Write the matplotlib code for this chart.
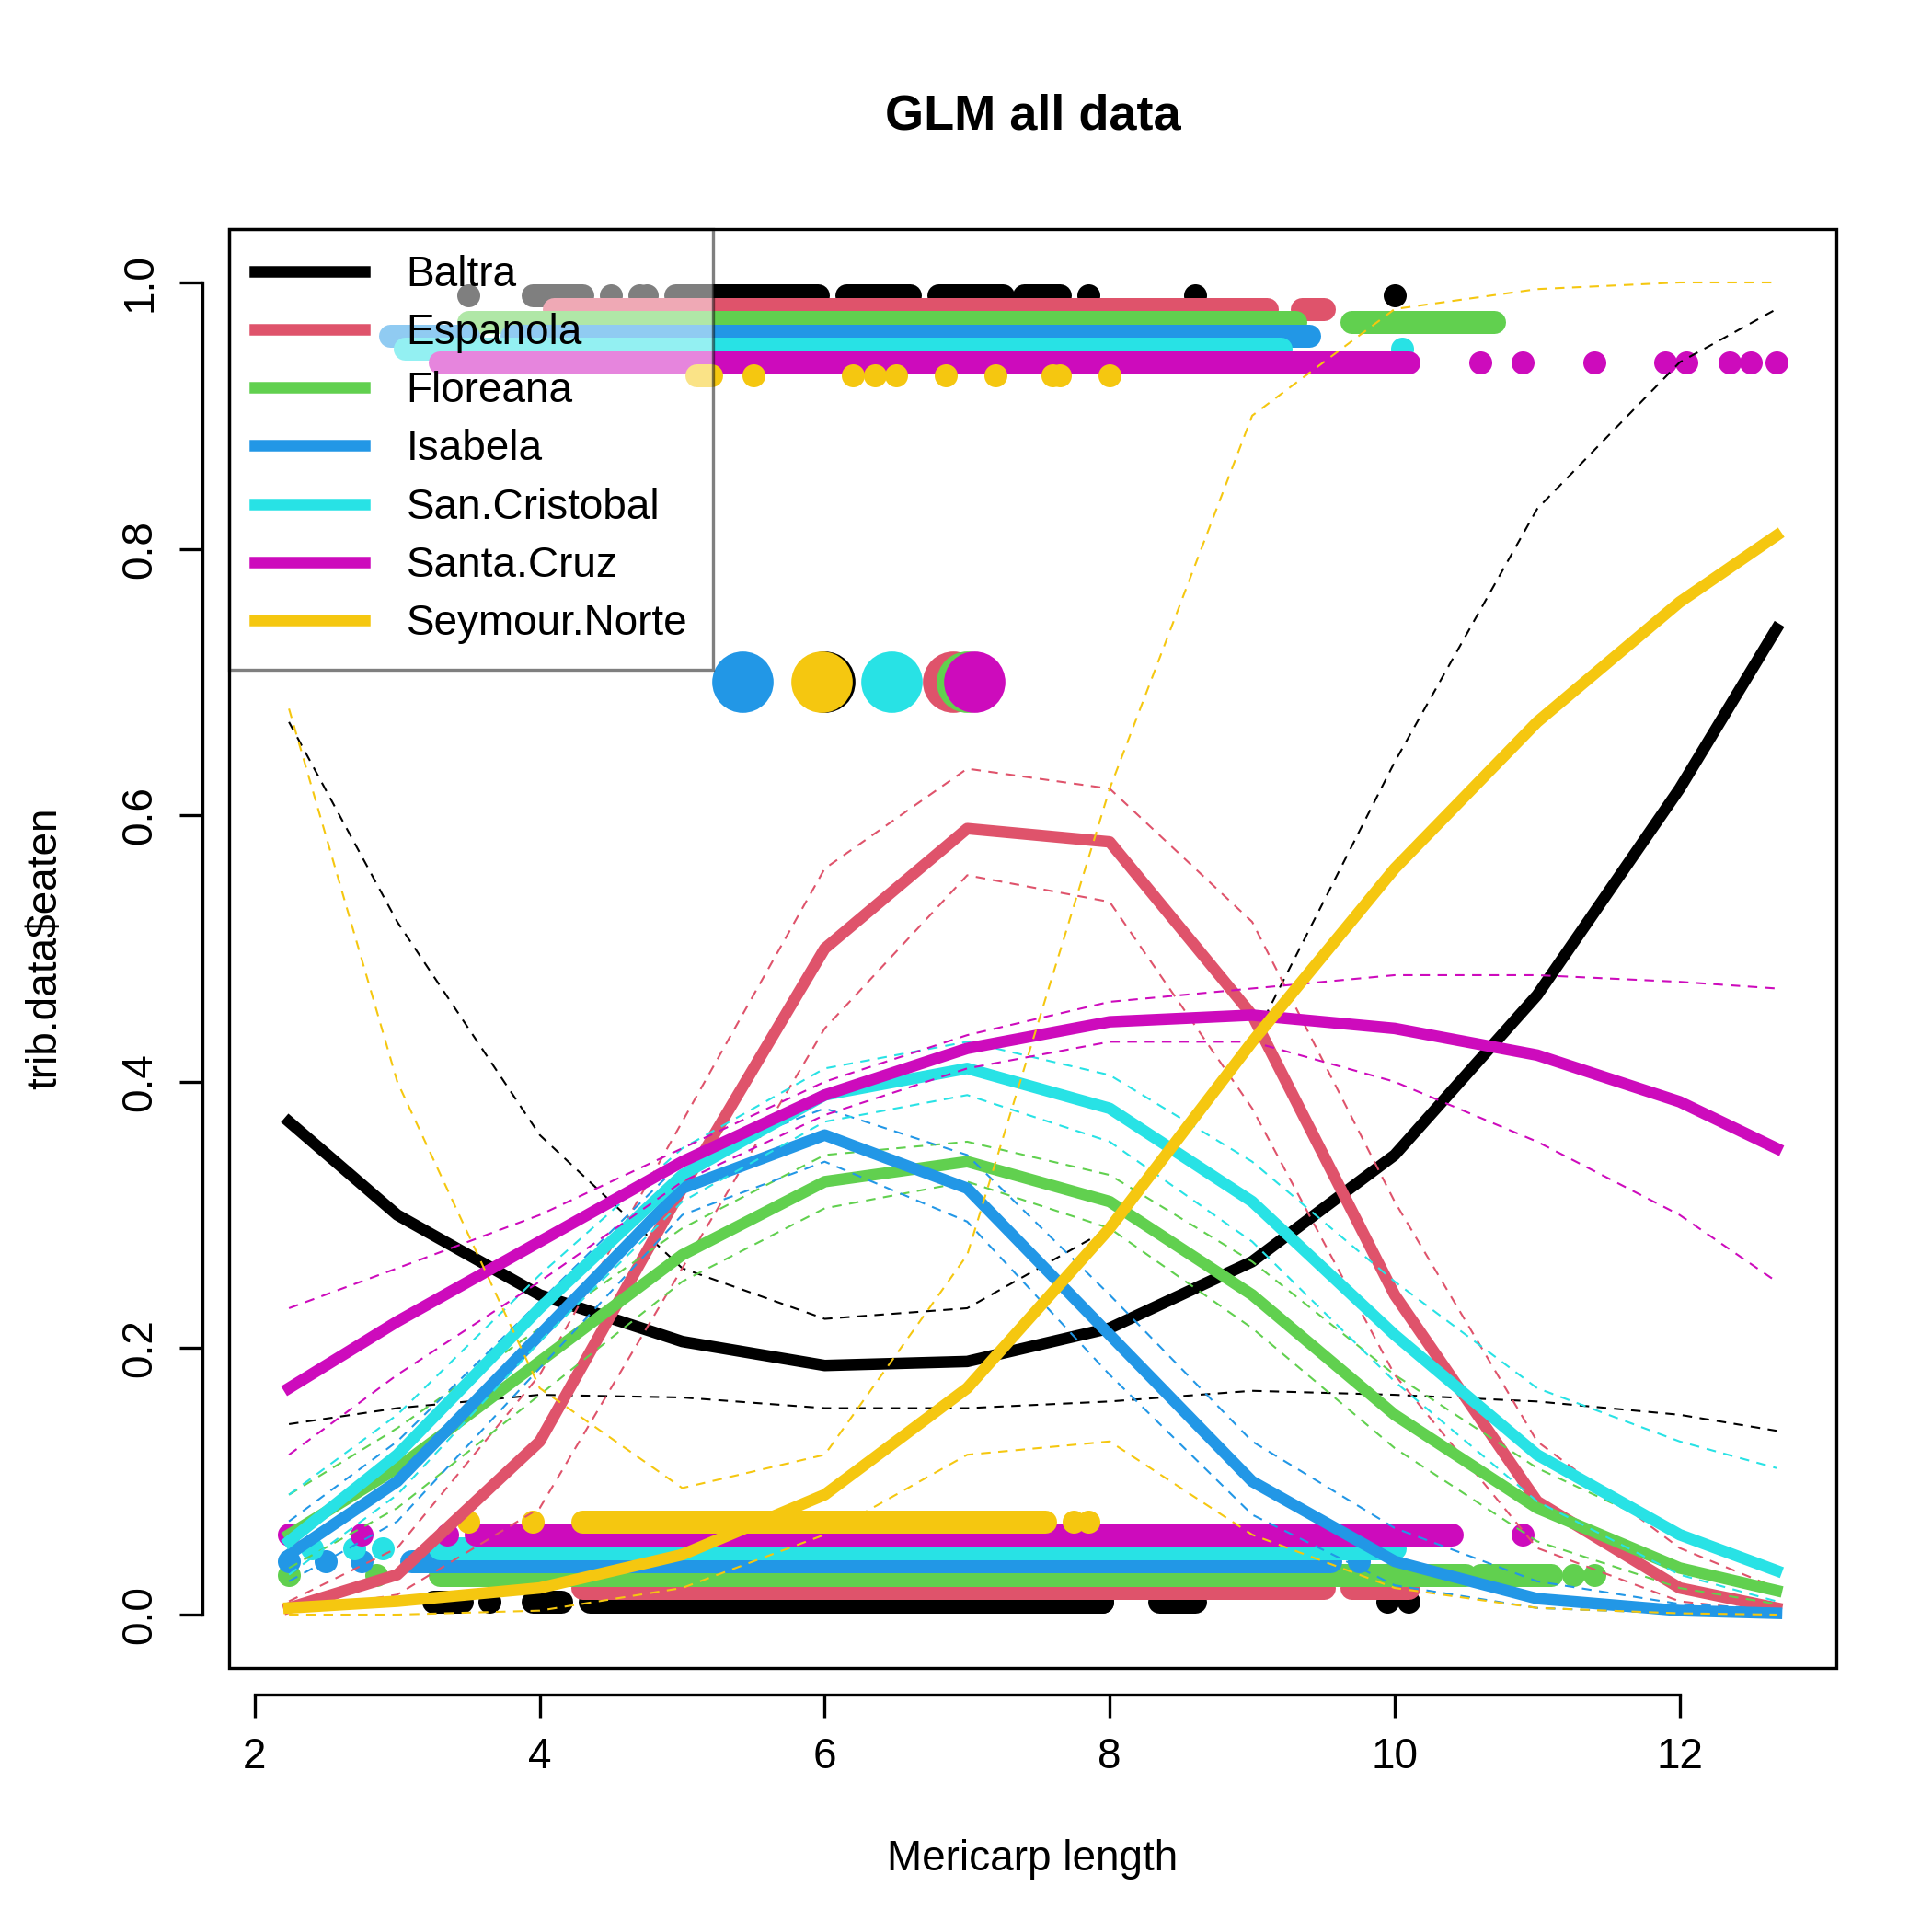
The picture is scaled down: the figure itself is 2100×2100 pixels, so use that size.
import matplotlib

matplotlib.use("Agg")
import matplotlib.pyplot as plt
from matplotlib.patches import Rectangle

plt.rcParams["font.family"] = ["Liberation Sans", "DejaVu Sans"]

islands = ["Baltra", "Espanola", "Floreana", "Isabela", "San.Cristobal", "Santa.Cruz", "Seymour.Norte"]
colors = ["#000000", "#DF536B", "#61D04F", "#2297E6", "#28E2E5", "#CD0BBC", "#F5C710"]

# fitted curves read at these lengths
grid = [2.24, 3, 4, 5, 6, 7, 8, 9, 10, 11, 12, 12.68]
fit = {
    "Baltra": [0.37, 0.30, 0.24, 0.205, 0.187, 0.19, 0.215, 0.265, 0.345, 0.465, 0.62, 0.74],
    "Espanola": [0.005, 0.03, 0.13, 0.32, 0.50, 0.59, 0.58, 0.45, 0.24, 0.085, 0.02, 0.005],
    "Floreana": [0.06, 0.11, 0.19, 0.27, 0.325, 0.34, 0.31, 0.24, 0.15, 0.08, 0.035, 0.018],
    "Isabela": [0.045, 0.10, 0.21, 0.32, 0.36, 0.32, 0.21, 0.10, 0.04, 0.012, 0.003, 0.001],
    "San.Cristobal": [0.055, 0.12, 0.23, 0.33, 0.39, 0.41, 0.38, 0.31, 0.21, 0.12, 0.06, 0.033],
    "Santa.Cruz": [0.17, 0.22, 0.28, 0.34, 0.39, 0.425, 0.445, 0.45, 0.44, 0.42, 0.385, 0.35],
    "Seymour.Norte": [0.005, 0.01, 0.02, 0.045, 0.09, 0.17, 0.29, 0.43, 0.56, 0.67, 0.76, 0.81],
}
upper = {
    "Baltra": [0.67, 0.52, 0.36, 0.26, 0.222, 0.23, 0.29, 0.43, 0.64, 0.83, 0.94, 0.98],
    "Espanola": [0.01, 0.05, 0.18, 0.37, 0.56, 0.635, 0.62, 0.52, 0.31, 0.13, 0.05, 0.02],
    "Floreana": [0.09, 0.14, 0.215, 0.29, 0.345, 0.355, 0.33, 0.265, 0.18, 0.11, 0.06, 0.035],
    "Isabela": [0.07, 0.13, 0.235, 0.34, 0.38, 0.345, 0.24, 0.13, 0.065, 0.025, 0.008, 0.004],
    "San.Cristobal": [0.09, 0.15, 0.255, 0.35, 0.41, 0.43, 0.405, 0.34, 0.25, 0.17, 0.13, 0.11],
    "Santa.Cruz": [0.23, 0.26, 0.30, 0.35, 0.40, 0.435, 0.46, 0.47, 0.48, 0.48, 0.475, 0.47],
    "Seymour.Norte": [0.68, 0.40, 0.17, 0.095, 0.12, 0.27, 0.62, 0.90, 0.98, 0.995, 1.0, 1.0],
}
lower = {
    "Baltra": [0.143, 0.155, 0.165, 0.163, 0.155, 0.155, 0.16, 0.168, 0.165, 0.16, 0.15, 0.138],
    "Espanola": [0.002, 0.015, 0.08, 0.26, 0.44, 0.555, 0.535, 0.38, 0.18, 0.05, 0.01, 0.002],
    "Floreana": [0.035, 0.08, 0.165, 0.25, 0.305, 0.325, 0.29, 0.215, 0.125, 0.055, 0.02, 0.008],
    "Isabela": [0.025, 0.07, 0.185, 0.30, 0.34, 0.295, 0.18, 0.075, 0.022, 0.005, 0.001, 0.0],
    "San.Cristobal": [0.03, 0.09, 0.205, 0.31, 0.37, 0.39, 0.355, 0.28, 0.175, 0.085, 0.03, 0.01],
    "Santa.Cruz": [0.12, 0.18, 0.25, 0.325, 0.375, 0.41, 0.43, 0.43, 0.40, 0.355, 0.30, 0.25],
    "Seymour.Norte": [0.0, 0.0, 0.003, 0.02, 0.06, 0.12, 0.13, 0.06, 0.02, 0.005, 0.001, 0.0],
}

# observed seeds: y level of each strip, dense runs (start, end) and single points
strip_y_eaten = [0.99, 0.98, 0.97, 0.96, 0.95, 0.94, 0.93]
strip_y_uneaten = [0.01, 0.02, 0.03, 0.04, 0.05, 0.06, 0.07]
runs_eaten = [
    [(3.95, 4.3), (4.95, 5.95), (6.15, 6.6), (6.8, 7.25), (7.4, 7.65)],
    [(4.1, 9.1), (9.35, 9.5)],
    [(3.5, 9.3), (9.7, 10.7)],
    [(2.95, 3.5), (3.8, 9.4)],
    [(3.05, 9.2)],
    [(3.3, 10.1)],
    [(5.1, 5.2)],
]
single_eaten = [
    [3.5, 4.5, 4.7, 4.75, 5.6, 7.85, 8.6, 10.0],
    [],
    [],
    [],
    [10.05],
    [10.6, 10.9, 11.4, 11.9, 12.05, 12.35, 12.5, 12.68],
    [5.5, 6.2, 6.35, 6.5, 6.85, 7.2, 7.6, 7.65, 8.0],
]
runs_uneaten = [
    [(3.25, 3.45), (3.95, 4.15), (4.35, 7.95), (8.35, 8.6)],
    [(4.3, 9.5), (9.7, 10.1)],
    [(3.3, 10.5), (10.6, 11.1)],
    [(3.1, 9.55)],
    [(3.3, 10.0)],
    [(3.55, 10.4)],
    [(4.3, 7.55)],
]
single_uneaten = [
    [3.65, 7.95, 9.95, 10.1],
    [10.05],
    [2.24, 2.85, 11.25, 11.4],
    [2.24, 2.5, 2.75, 9.75],
    [2.4, 2.7, 2.9, 9.9],
    [2.24, 2.75, 3.35, 10.9],
    [3.5, 3.95, 7.75, 7.85],
]
mean_length = [6.0, 6.9, 7.0, 5.42, 6.47, 7.05, 5.98]
mean_order = [3, 0, 6, 4, 1, 2, 5]

fig = plt.figure(figsize=(7, 7), dpi=300)
ax = fig.add_axes([0.1186, 0.1367, 0.8319, 0.7447])
ax.set_xlim(1.82, 13.1)
ax.set_ylim(-0.04, 1.04)

dot = 6.0
for i, name in enumerate(islands):
    c = colors[i]
    for runs, singles, yv in ((runs_eaten[i], single_eaten[i], strip_y_eaten[i]),
                              (runs_uneaten[i], single_uneaten[i], strip_y_uneaten[i])):
        for a, b in runs:
            ax.plot([a, b], [yv, yv], color=c, lw=dot, solid_capstyle="round", zorder=2)
        ax.plot(singles, [yv] * len(singles), "o", color=c, ms=dot, mec="none", zorder=2)

for i in mean_order:
    ax.plot([mean_length[i]], [0.7], "o", color=colors[i], ms=16, mec="none", zorder=2)

for i, name in enumerate(islands):
    ax.plot(grid, fit[name], color=colors[i], lw=3, zorder=3, label=name,
            solid_joinstyle="round")
    ax.plot(grid, upper[name], color=colors[i], lw=0.5, ls=(0, (5, 4)), zorder=3)
    ax.plot(grid, lower[name], color=colors[i], lw=0.5, ls=(0, (5, 4)), zorder=3)

leg = ax.legend(loc="upper left", borderaxespad=0, fontsize=11, frameon=True, fancybox=False,
                edgecolor="black", framealpha=0.5, handlelength=2.6, labelspacing=0.42,
                borderpad=0.6, handletextpad=1.0)
leg.get_frame().set_linewidth(0.8)
leg.set_zorder(5)

ax.add_patch(Rectangle((0, 0), 1, 1, transform=ax.transAxes, fill=False, lw=0.8, zorder=6, clip_on=False))
for s in ("top", "right"):
    ax.spines[s].set_visible(False)
ax.spines["bottom"].set_position(("outward", 7))
ax.spines["left"].set_position(("outward", 7))
ax.spines["bottom"].set_bounds(2, 12)
ax.spines["left"].set_bounds(0, 1)
ax.set_xticks([2, 4, 6, 8, 10, 12])
ax.set_yticks([0, 0.2, 0.4, 0.6, 0.8, 1.0])
ax.set_yticklabels(["0.0", "0.2", "0.4", "0.6", "0.8", "1.0"], rotation=90, va="center")
ax.tick_params(length=6, width=0.8, labelsize=11, pad=5)

ax.set_title("GLM all data", fontsize=13, fontweight="bold", pad=26)
ax.set_xlabel("Mericarp length", fontsize=11, labelpad=16)
ax.set_ylabel("trib.data$eaten", fontsize=11, labelpad=14)

fig.savefig("out.png")
